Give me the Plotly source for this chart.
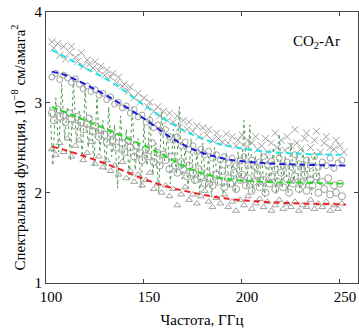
import plotly.graph_objects as go

# Fitted (dashed) curves
fit_f = [103, 110, 120, 133, 150, 163, 175, 190, 210, 230, 253]
fit_cyan = [3.58, 3.50, 3.38, 3.23, 2.97, 2.78, 2.64, 2.53, 2.46, 2.43, 2.42]
fit_blue = [3.34, 3.30, 3.20, 3.05, 2.82, 2.62, 2.48, 2.38, 2.33, 2.31, 2.30]
fit_green = [2.95, 2.89, 2.80, 2.68, 2.52, 2.38, 2.25, 2.16, 2.12, 2.11, 2.10]
fit_red = [2.51, 2.47, 2.40, 2.30, 2.15, 2.06, 2.00, 1.94, 1.90, 1.88, 1.87]

# Experimental points (crosses)
x_f = [103, 104, 106, 107, 109, 110, 112, 113, 115, 116, 118, 119, 121, 122, 124, 125, 127, 128, 130, 131,
       133, 134, 136, 137, 139, 140, 142, 143, 145, 147, 148, 150, 152, 153, 155, 157, 158, 160, 162, 163,
       165, 167, 168, 170, 172, 173, 175, 177, 178, 180, 182, 183, 185, 187, 188, 190, 192, 193, 195, 197,
       198, 200, 202, 203, 205, 207, 208, 210, 212, 213, 215, 217, 218, 220, 222, 223, 225, 227, 228, 230,
       232, 233, 235, 237, 238, 240, 242, 243, 245, 247, 248, 250, 252]
x_v = [3.67, 3.60, 3.65, 3.52, 3.62, 3.48, 3.55, 3.62, 3.50, 3.45, 3.55, 3.40, 3.47, 3.42, 3.38, 3.45, 3.35, 3.40, 3.30, 3.36,
       3.28, 3.32, 3.22, 3.28, 3.18, 3.20, 3.12, 3.17, 3.05, 3.10, 3.00, 3.05, 2.95, 3.00, 2.90, 2.95, 2.85, 2.90, 2.80, 2.88,
       2.78, 2.85, 2.72, 2.80, 2.70, 2.78, 2.68, 2.74, 2.62, 2.72, 2.64, 2.70, 2.58, 2.66, 2.60, 2.56, 2.65, 2.55, 2.62, 2.52,
       2.58, 2.64, 2.50, 2.58, 2.55, 2.62, 2.48, 2.52, 2.60, 2.45, 2.55, 2.66, 2.50, 2.58, 2.47, 2.62, 2.52, 2.70, 2.55, 2.48,
       2.60, 2.66, 2.50, 2.58, 2.68, 2.45, 2.55, 2.62, 2.50, 2.48, 2.58, 2.52, 2.45]

# Experimental points (circles, upper set)
o1_f = [103, 105, 107, 109, 111, 113, 115, 117, 119, 121, 123, 125, 127, 129, 131, 133, 135, 137, 139, 141,
        143, 145, 147, 149, 151, 153, 155, 157, 159, 161, 163, 165, 167, 169, 171, 173, 175, 177, 179, 181,
        183, 185, 187, 189, 191, 193, 195, 197, 199, 201, 203, 205, 207, 209, 211, 213, 215, 217, 219, 221,
        223, 225, 227, 229, 231, 233, 235, 237, 239, 241, 243, 245, 247, 249, 251]
o1_v = [3.28, 3.32, 3.25, 3.30, 3.27, 3.22, 3.26, 3.20, 3.15, 3.18, 3.12, 3.14, 3.08, 3.10, 3.03, 3.06, 2.98, 3.00, 2.94, 2.96,
        2.88, 2.92, 2.84, 2.86, 2.78, 2.80, 2.72, 2.75, 2.68, 2.70, 2.62, 2.58, 2.62, 2.52, 2.56, 2.48, 2.52, 2.45, 2.48, 2.42,
        2.46, 2.38, 2.42, 2.36, 2.40, 2.33, 2.38, 2.30, 2.35, 2.40, 2.30, 2.36, 2.28, 2.34, 2.40, 2.30, 2.35, 2.26, 2.38, 2.30,
        2.34, 2.28, 2.42, 2.32, 2.26, 2.36, 2.30, 2.40, 2.28, 2.34, 2.30, 2.38, 2.27, 2.33, 2.36]

# Experimental points (circles, lower set)
o2_f = [103, 104, 106, 107, 109, 110, 112, 113, 115, 116, 118, 119, 121, 122, 124, 125, 127, 128, 130, 131,
        133, 134, 136, 137, 139, 140, 142, 143, 145, 146, 148, 149, 151, 152, 154, 155, 157, 158, 160, 161,
        163, 164, 166, 167, 169, 170, 172, 173, 175, 176, 178, 179, 181, 182, 184, 185, 187, 188, 190, 191,
        193, 194, 196, 197, 199, 200, 202, 203, 205, 206, 208, 209, 211, 212, 214, 215, 217, 218, 220, 221,
        223, 224, 226, 227, 229, 230, 232, 233, 235, 236, 238, 239, 241, 242, 244, 245, 247, 248, 250, 251]
o2_v = [2.88, 2.80, 2.92, 2.84, 2.86, 2.78, 2.88, 2.82, 2.74, 2.84, 2.78, 2.70, 2.76, 2.82, 2.68, 2.74, 2.62, 2.70, 2.64, 2.56,
        2.66, 2.58, 2.50, 2.62, 2.55, 2.45, 2.58, 2.50, 2.40, 2.52, 2.44, 2.36, 2.48, 2.40, 2.55, 2.34, 2.44, 2.30, 2.42, 2.36,
        2.26, 2.40, 2.30, 2.22, 2.34, 2.26, 2.18, 2.30, 2.22, 2.14, 2.26, 2.18, 2.10, 2.22, 2.16, 2.08, 2.20, 2.12, 2.24, 2.06,
        2.16, 2.10, 2.22, 2.04, 2.14, 2.20, 2.08, 2.16, 2.02, 2.12, 2.20, 2.06, 2.14, 2.00, 2.10, 2.18, 2.04, 2.12, 2.22, 2.06,
        2.15, 2.00, 2.10, 2.18, 2.04, 2.12, 2.20, 2.02, 2.14, 2.08, 2.18, 2.00, 2.12, 2.04, 2.16, 1.98, 2.08, 2.00, 2.10, 1.96]

# Experimental points (triangles)
t_f = [103, 105, 107, 109, 111, 113, 115, 117, 119, 121, 123, 125, 127, 129, 131, 133, 135, 137, 139, 141,
       143, 145, 147, 149, 151, 153, 155, 157, 159, 161, 163, 165, 167, 169, 171, 173, 175, 177, 179, 181,
       183, 185, 187, 189, 191, 193, 195, 197, 199, 201, 203, 205, 207, 209, 211, 213, 215, 217, 219, 221,
       223, 225, 227, 229, 231, 233, 235, 237, 239, 241, 243, 245, 247, 249, 251]
t_v = [2.48, 2.42, 2.55, 2.45, 2.60, 2.40, 2.52, 2.58, 2.36, 2.44, 2.56, 2.32, 2.40, 2.28, 2.36, 2.24, 2.30, 2.20, 2.34, 2.16,
       2.24, 2.12, 2.20, 2.08, 2.14, 2.22, 2.04, 2.10, 2.00, 2.08, 1.96, 2.04, 1.86, 1.98, 2.06, 1.92, 1.98, 1.88, 1.96, 2.02,
       1.90, 1.84, 1.94, 1.88, 1.98, 1.84, 1.90, 1.80, 1.92, 1.86, 1.96, 1.82, 1.88, 1.93, 1.84, 1.90, 1.80, 1.86, 1.92, 1.82,
       1.88, 1.84, 1.90, 1.80, 1.86, 1.84, 1.92, 1.82, 1.88, 1.84, 1.90, 1.80, 1.86, 1.82, 1.88]

# Oscillating (dotted) calculated spectrum
d_f = [102, 103.5, 105, 106.5, 108, 109.5, 111, 112.5, 114, 115.5, 117, 118.5, 120, 121.5, 123, 124.5, 126, 127.5, 129, 130.5,
       132, 133.5, 135, 136.5, 138, 139.5, 141, 142.5, 144, 145.5, 147, 148.5, 150, 151.5, 153, 154.5, 156, 157.5, 159, 160.5,
       162, 163.5, 165, 166.5, 168, 169.5, 171, 172.5, 174, 175.5, 177, 178.5, 180, 181.5, 183, 184.5, 186, 187.5, 189, 190.5,
       192, 193.5, 195, 196.5, 198, 199.5, 201, 202.5, 204, 205.5, 207, 208.5, 210, 211.5, 213, 214.5, 216, 217.5, 219, 220.5,
       222, 223.5, 225, 226.5, 228, 229.5, 231, 232.5, 234, 235.5, 237, 238.5, 240]
d_v = [2.95, 2.30, 3.05, 2.45, 3.20, 2.60, 2.95, 2.35, 3.25, 2.55, 2.90, 2.40, 3.15, 2.50, 2.85, 2.30, 3.05, 2.45, 2.80, 2.25,
       2.95, 2.40, 2.75, 2.05, 2.85, 2.35, 2.70, 2.15, 2.95, 2.25, 2.60, 2.05, 2.75, 2.30, 2.85, 2.20, 2.55, 2.00, 2.90, 2.35,
       2.65, 2.10, 2.70, 2.20, 2.95, 2.15, 2.50, 2.05, 2.60, 2.10, 2.45, 2.00, 2.55, 2.05, 2.40, 1.95, 2.50, 2.10, 2.35, 1.95,
       2.45, 2.05, 2.35, 2.00, 2.45, 2.10, 2.80, 2.05, 2.75, 2.00, 2.40, 2.05, 2.45, 1.95, 2.40, 2.10, 2.50, 1.98, 2.65, 2.05,
       2.40, 2.00, 2.55, 2.10, 2.45, 2.00, 2.50, 2.05, 2.40, 1.98, 2.45, 2.10, 2.30]

x_ticks = [100, 150, 200, 250]
y_ticks = [1, 2, 3, 4]

GRAY = "#a0a0a0"
FONT = "Liberation Serif"

fig = go.Figure()
fig.add_trace(go.Scatter(x=d_f, y=d_v, mode="lines",
                         line=dict(color="#4c9c4c", width=1, dash="dot")))
fig.add_trace(go.Scatter(x=x_f, y=x_v, mode="markers",
                         marker=dict(symbol="x-thin-open", size=7, color=GRAY, line=dict(color=GRAY, width=1))))
fig.add_trace(go.Scatter(x=o1_f, y=o1_v, mode="markers",
                         marker=dict(symbol="circle-open", size=6, color=GRAY, line=dict(color=GRAY, width=1))))
fig.add_trace(go.Scatter(x=o2_f, y=o2_v, mode="markers",
                         marker=dict(symbol="circle-open", size=7, color=GRAY, line=dict(color=GRAY, width=1))))
fig.add_trace(go.Scatter(x=t_f, y=t_v, mode="markers",
                         marker=dict(symbol="triangle-up-open", size=6, color=GRAY, line=dict(color=GRAY, width=1))))
for vals, col in [(fit_cyan, "#22e4e4"), (fit_blue, "#1c1cdc"), (fit_green, "#22dd22"), (fit_red, "#ee2020")]:
    fig.add_trace(go.Scatter(x=fit_f, y=vals, mode="lines", line_shape="spline",
                             line=dict(color=col, width=2, dash="6px,4px")))

fig.add_annotation(x=238, y=3.67, xref="x", yref="y", text="CO<sub>2</sub>-Ar", showarrow=False,
                   font=dict(family=FONT, size=15, color="black"))

axis_common = dict(showline=True, linecolor="#444", linewidth=1, mirror="ticks", ticks="inside",
                   ticklen=4, tickcolor="#444", showgrid=False, zeroline=False,
                   tickfont=dict(family=FONT, size=15, color="black"))
fig.update_xaxes(range=[100, 259.2], tickvals=x_ticks, ticklabelshift=5,
                 title=dict(text="Частота, ГГц", font=dict(family=FONT, size=15, color="black"), standoff=10),
                 **axis_common)
fig.update_yaxes(range=[1, 4], tickvals=y_ticks,
                 title=dict(text="Спектральная функция, 10<sup>−8</sup> см/амага<sup>2</sup>",
                            font=dict(family=FONT, size=15, color="black"), standoff=5),
                 **axis_common)
fig.update_layout(width=359, height=329, margin=dict(l=46, r=1, t=12, b=46),
                  paper_bgcolor="white", plot_bgcolor="white", showlegend=False)
fig.write_html("out.html")
